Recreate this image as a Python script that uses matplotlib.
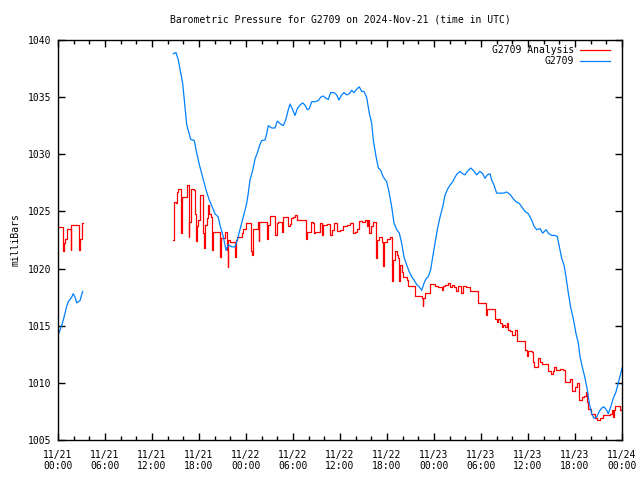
import numpy as np
import matplotlib
matplotlib.use("Agg")
import matplotlib.pyplot as plt

title = "Barometric Pressure for G2709 on 2024-Nov-21 (time in UTC)"
tick_labels = ["11/21\n00:00", "11/21\n06:00", "11/21\n12:00", "11/21\n18:00",
               "11/22\n00:00", "11/22\n06:00", "11/22\n12:00", "11/22\n18:00",
               "11/23\n00:00", "11/23\n06:00", "11/23\n12:00", "11/23\n18:00",
               "11/24\n00:00"]
tick_hours = [0, 6, 12, 18, 24, 30, 36, 42, 48, 54, 60, 66, 72]

# G2709 observed (hours since 11/21 00:00 UTC, millibars)
blue_h1 = [0.0, 0.26, 0.68, 1.11, 1.31, 1.75, 1.95, 2.17, 2.39, 2.81, 3.15]
blue_p1 = [1014.2, 1014.6, 1015.5, 1016.7, 1017.1, 1017.5, 1017.8, 1017.5, 1017.0, 1017.2, 1018.0]

blue_h2 = [14.72, 15.06, 15.36, 15.57, 15.92, 16.21, 16.43, 16.63, 16.94, 17.40, 17.71, 18.04,
           18.47, 18.89, 19.31, 19.75, 20.04, 20.46, 20.68, 21.10, 21.45, 21.74, 22.17, 22.60,
           22.89, 23.23, 23.66, 24.09, 24.29, 24.51, 24.86, 25.15, 25.44, 25.70, 26.00, 26.43,
           26.64, 26.85, 27.28, 27.70, 28.00, 28.34, 28.76, 29.11, 29.40, 29.62, 29.96, 30.26,
           30.55, 30.89, 31.24, 31.53, 31.83, 32.08, 32.39, 32.81, 33.23, 33.54, 33.87, 34.21,
           34.51, 34.81, 35.23, 35.58, 35.87, 36.22, 36.51, 36.86, 37.19, 37.49, 37.79, 38.13,
           38.46, 38.77, 39.06, 39.40, 39.74, 40.05, 40.25, 40.60, 40.89, 41.20, 41.53, 41.96,
           42.29, 42.60, 42.89, 43.24, 43.57, 43.88, 44.17, 44.52, 44.85, 45.15, 45.45, 45.79,
           46.12, 46.43, 46.72, 46.98, 47.27, 47.58, 47.83, 48.13, 48.42, 48.77, 49.11, 49.40,
           49.70, 50.04, 50.39, 50.68, 50.97, 51.32, 51.66, 51.96, 52.25, 52.68, 53.02, 53.45,
           53.87, 54.22, 54.51, 54.81, 55.15, 55.36, 55.66, 56.00, 56.43, 56.85, 57.28, 57.70,
           58.13, 58.47, 58.89, 59.20, 59.62, 60.04, 60.47, 60.77, 61.11, 61.53, 61.88, 62.30,
           62.59, 63.03, 63.45, 63.74, 64.00, 64.30, 64.60, 64.85, 65.14, 65.45, 65.79, 66.13,
           66.42, 66.64, 66.93, 67.28, 67.57, 67.83, 68.13, 68.43, 68.77, 69.10, 69.41, 69.70,
           70.05, 70.25, 70.56, 70.89, 71.23, 71.53, 71.83, 72.00]
blue_p2 = [1038.8, 1038.9, 1038.25, 1037.5, 1036.2, 1034.2, 1032.6, 1032.1, 1031.3, 1031.2, 1030.1, 1029.1,
           1028.0, 1026.9, 1026.0, 1025.3, 1024.8, 1024.5, 1023.8, 1022.8, 1021.6, 1022.1, 1021.9, 1021.9,
           1022.5, 1023.4, 1024.5, 1025.7, 1026.6, 1027.75, 1028.6, 1029.6, 1030.1, 1030.7, 1031.2, 1031.25,
           1031.8, 1032.5, 1032.3, 1032.3, 1032.9, 1032.7, 1032.5, 1033.1, 1033.9, 1034.4, 1033.9, 1033.4,
           1034.0, 1034.3, 1034.5, 1034.3, 1033.9, 1034.0, 1034.6, 1034.6, 1034.7, 1035.0, 1035.1, 1034.9,
           1034.8, 1035.4, 1035.4, 1035.2, 1034.75, 1035.2, 1035.4, 1035.2, 1035.3, 1035.6, 1035.4, 1035.7,
           1035.9, 1035.5, 1035.5, 1035.0, 1033.6, 1032.7, 1031.25, 1029.8, 1028.8, 1028.6, 1028.0, 1027.6,
           1026.6, 1025.4, 1024.0, 1023.4, 1023.1, 1022.2, 1021.0, 1020.3, 1019.7, 1019.3, 1019.0, 1018.6,
           1018.4, 1018.1, 1018.7, 1019.1, 1019.3, 1019.9, 1021.0, 1022.2, 1023.4, 1024.5, 1025.4, 1026.4,
           1026.9, 1027.3, 1027.6, 1028.0, 1028.3, 1028.5, 1028.3, 1028.2, 1028.5, 1028.8, 1028.6, 1028.2,
           1028.5, 1028.3, 1027.9, 1028.2, 1028.3, 1027.75, 1027.3, 1026.6, 1026.6, 1026.6, 1026.7, 1026.5,
           1026.1, 1025.85, 1025.7, 1025.4, 1025.0, 1024.8, 1024.25, 1023.7, 1023.4, 1023.5, 1023.1, 1023.4,
           1023.1, 1022.9, 1022.9, 1022.8, 1021.9, 1020.9, 1020.3, 1019.3, 1017.9, 1016.6, 1015.6, 1014.3,
           1013.5, 1012.3, 1011.4, 1010.4, 1009.4, 1008.2, 1007.3, 1006.9, 1007.0, 1007.5, 1007.8, 1007.9,
           1007.6, 1007.3, 1007.9, 1008.65, 1009.2, 1010.0, 1010.8, 1011.3]

# G2709 Analysis
red_h1 = [0.0, 0.68, 0.77, 0.94, 1.11, 1.62, 1.70, 2.68, 2.76, 3.02, 3.15]
red_p1 = [1023.6, 1021.5, 1022.2, 1022.6, 1023.5, 1021.6, 1023.8, 1021.6, 1022.6, 1024.0, 1024.0]

red_h2 = [14.72, 14.75, 14.81, 15.06, 15.15, 15.36, 15.66, 15.74, 15.83, 16.42, 16.68, 16.76,
          16.98, 17.36, 17.45, 17.62, 17.70, 17.83, 18.13, 18.55, 18.64, 18.76, 18.98, 19.19,
          19.32, 19.49, 19.62, 19.70, 19.83, 20.68, 20.76, 21.32, 21.53, 21.66, 21.74, 21.96,
          22.64, 22.72, 22.89, 23.45, 23.66, 24.00, 24.64, 24.76, 24.93, 25.49, 25.62, 25.70,
          26.72, 26.85, 27.06, 27.74, 27.91, 28.13, 28.64, 28.77, 29.40, 29.62, 29.74, 29.96,
          30.25, 30.55, 31.66, 31.83, 32.25, 32.51, 32.68, 32.85, 33.45, 33.66, 33.87, 34.30,
          34.72, 34.94, 35.23, 35.57, 36.00, 36.42, 36.85, 37.28, 37.62, 37.91, 38.21, 38.38,
          38.76, 39.19, 39.40, 39.62, 39.74, 39.91, 40.25, 40.59, 40.76, 41.02, 41.32, 41.45,
          41.62, 41.96, 42.38, 42.68, 42.81, 43.02, 43.23, 43.44, 43.57, 43.66, 43.87, 44.08,
          44.51, 44.72, 45.58, 46.43, 46.56, 46.64, 46.85, 47.49, 48.13, 48.56, 48.98, 49.20,
          49.41, 49.83, 50.05, 50.26, 50.56, 50.81, 51.11, 51.41, 51.66, 52.09, 52.60, 53.66,
          54.64, 54.73, 55.79, 56.00, 56.22, 56.43, 56.64, 56.85, 57.07, 57.28, 57.49, 57.71,
          58.00, 58.34, 58.56, 59.62, 59.83, 60.05, 60.47, 60.60, 60.77, 61.32, 61.54, 61.75,
          62.60, 62.90, 63.15, 63.32, 63.58, 64.09, 64.51, 64.73, 65.37, 65.58, 66.00, 66.30,
          66.56, 66.85, 67.15, 67.41, 67.58, 67.70, 68.00, 68.56, 68.85, 69.19, 69.62, 70.47,
          70.68, 70.90, 70.98, 71.11, 71.75, 72.00]
red_p2 = [1022.5, 1025.7, 1025.85, 1025.7, 1026.7, 1027.0, 1025.1, 1023.1, 1026.3, 1027.3, 1022.8, 1024.1,
          1027.0, 1026.9, 1024.8, 1022.4, 1023.7, 1024.25, 1026.4, 1023.1, 1021.8, 1023.8, 1024.4, 1025.6,
          1024.8, 1024.5, 1023.2, 1021.6, 1023.2, 1021.0, 1022.65, 1023.2, 1021.6, 1020.1, 1022.5, 1022.35,
          1021.0, 1022.5, 1022.8, 1023.1, 1023.5, 1024.0, 1021.5, 1021.2, 1023.5, 1024.1, 1022.4, 1024.1,
          1022.6, 1023.8, 1024.6, 1022.9, 1024.0, 1024.1, 1023.2, 1024.5, 1023.7, 1023.9, 1024.4, 1024.5,
          1024.7, 1024.25, 1022.6, 1023.2, 1024.1, 1024.0, 1023.1, 1023.2, 1024.0, 1022.9, 1023.8, 1023.9,
          1022.9, 1023.4, 1024.0, 1023.3, 1023.4, 1023.7, 1023.8, 1024.0, 1023.1, 1023.2, 1023.5, 1024.2,
          1024.1, 1024.25, 1023.7, 1024.25, 1023.1, 1023.7, 1024.1, 1020.9, 1022.5, 1022.8, 1022.3, 1020.2,
          1022.35, 1022.6, 1022.8, 1018.9, 1020.75, 1021.5, 1021.2, 1020.9, 1018.9, 1020.3, 1019.7, 1019.3,
          1019.0, 1018.5, 1017.6, 1017.4, 1016.7, 1017.4, 1017.9, 1018.65, 1018.5, 1018.4, 1018.1, 1018.5,
          1018.6, 1018.7, 1018.4, 1018.6, 1018.4, 1018.0, 1018.5, 1017.9, 1018.5, 1018.4, 1018.0, 1017.0,
          1015.9, 1016.5, 1015.6, 1015.3, 1015.6, 1015.2, 1014.9, 1015.05, 1014.85, 1015.2, 1014.6, 1014.5,
          1014.2, 1014.6, 1013.7, 1012.9, 1012.35, 1012.8, 1012.7, 1011.85, 1011.4, 1012.2, 1011.85, 1011.65,
          1011.0, 1010.8, 1011.0, 1011.4, 1011.1, 1011.2, 1011.1, 1010.1, 1010.3, 1009.3, 1009.6, 1010.0,
          1008.5, 1008.8, 1008.85, 1009.2, 1008.35, 1007.7, 1007.3, 1006.9, 1006.75, 1006.9, 1007.2, 1007.3,
          1007.6, 1007.0, 1007.6, 1008.0, 1007.6, 1007.6]

RED = "#ff0000"
BLUE = "#0080ff"
FONT = "DejaVu Sans Mono"
FS = 7

plt.rcParams['font.family'] = FONT
fig = plt.figure(figsize=(6.4, 4.8), dpi=100)
ax = fig.add_axes([58/640, 40/480, 564/640, 400/480])

ax.plot(red_h1, red_p1, color=RED, lw=0.9, drawstyle='steps-post', label="G2709 Analysis")
ax.plot(red_h2, red_p2, color=RED, lw=0.9, drawstyle='steps-post')
ax.plot(blue_h1, blue_p1, color=BLUE, lw=0.9, label="G2709")
ax.plot(blue_h2, blue_p2, color=BLUE, lw=0.9)

ax.set_xlim(0, 72)
ax.set_ylim(1005, 1040)
ax.set_xticks(tick_hours)
ax.set_xticklabels(tick_labels, fontsize=FS, linespacing=1.15)
ax.set_xticks(np.arange(0, 73, 2), minor=True)
ax.set_yticks(np.arange(1005, 1041, 5))
ax.set_yticklabels([str(v) for v in range(1005, 1041, 5)], fontsize=FS)
ax.tick_params(axis='both', which='major', direction='in', length=5, width=1,
               top=True, right=True, color='black')
ax.tick_params(axis='x', which='minor', direction='in', length=3, width=1,
               top=True, bottom=True)
ax.tick_params(axis='x', which='major', pad=7)
ax.tick_params(axis='y', which='major', pad=4.5)
for s in ax.spines.values():
    s.set_linewidth(1)
    s.set_color('black')

fig.text(340/640, 1 - 19.5/480, title, ha='center', va='center', fontsize=FS)
fig.text(15.5/640, 0.5, "milliBars", rotation=90, ha='center', va='center', fontsize=FS)

leg = ax.legend(loc='upper right', bbox_to_anchor=(610/640, 1 - 45/480),
                bbox_transform=fig.transFigure, frameon=False, markerfirst=False,
                fontsize=FS, handlelength=3.1, handletextpad=0.6, labelspacing=0.15,
                borderpad=0, borderaxespad=0)

fig.savefig("out.png", dpi=100)
